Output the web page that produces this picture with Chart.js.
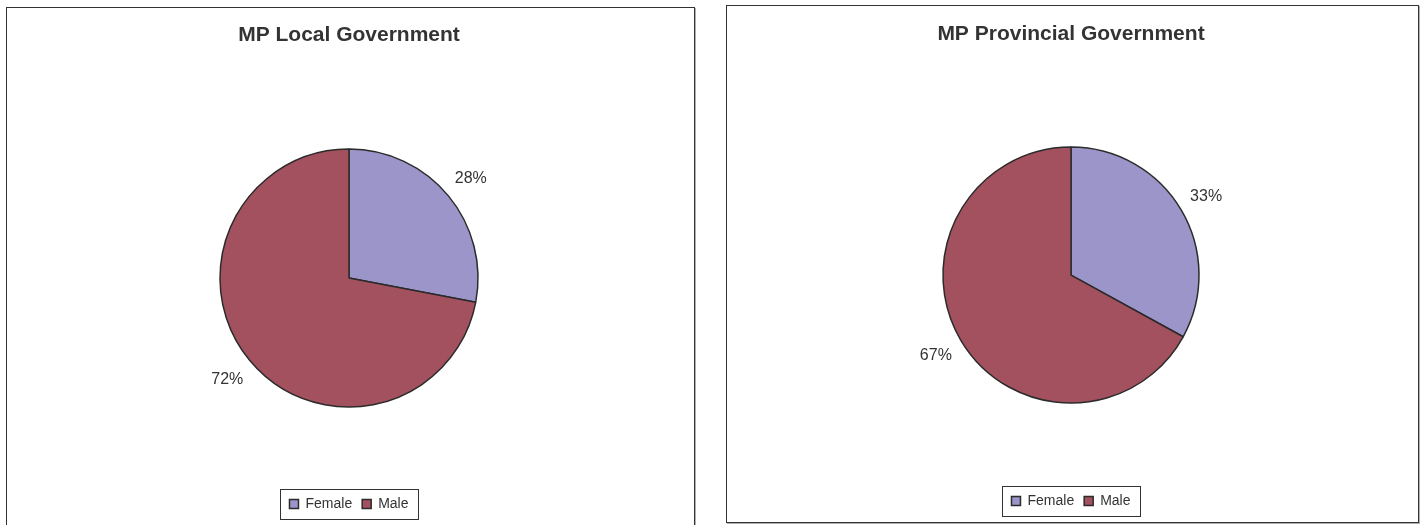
<!DOCTYPE html>
<html>
<head>
<meta charset="utf-8">
<script src="https://cdn.jsdelivr.net/npm/chart.js@4"></script>
<style>
    body { margin: 0; background: #fff; width: 1426px; height: 525px; overflow: hidden; position: relative; }
    .panel { position: absolute; border: 1px solid #333; box-shadow: 1px 1px 0 #b0b0b0; background: #fff; }
    #panelLocal { left: 6px; top: 7px; width: 687px; height: 530px; }
    #panelProv { left: 726px; top: 5px; width: 691px; height: 516px; }
    canvas { display: block; }
</style>
</head>
<body>
<div class="panel" id="panelLocal"><canvas id="graficoLocal" width="687" height="530"></canvas></div>
<div class="panel" id="panelProv"><canvas id="graficoProv" width="691" height="516"></canvas></div>

<script>
const categorias = ["Female", "Male"];
const porcentajeLocal = [28, 72];
const porcentajeProvincial = [33, 67];
const colores = ["#9b95c9", "#a4515f"];

Chart.defaults.font.family = "'Liberation Sans', Arial, sans-serif";
Chart.defaults.color = "#333";

// etiquetas de porcentaje fuera de cada porcion
const etiquetasPlugin = {
    id: "etiquetas",
    afterDatasetsDraw(chart) {
        const ctx = chart.ctx;
        const datos = chart.data.datasets[0].data;
        ctx.save();
        ctx.font = "16px 'Liberation Sans', Arial, sans-serif";
        ctx.fillStyle = "#333";
        ctx.textAlign = "center";
        ctx.textBaseline = "middle";
        chart.getDatasetMeta(0).data.forEach((arc, i) => {
            const p = arc.getProps(["x", "y", "startAngle", "endAngle", "outerRadius"], true);
            const medio = (p.startAngle + p.endAngle) / 2;
            const r = p.outerRadius + 29;
            ctx.fillText(datos[i] + "%", p.x + Math.cos(medio) * r, p.y + Math.sin(medio) * r + 1);
        });
        ctx.restore();
    }
};

// marco alrededor de la leyenda
const marcoLeyenda = {
    id: "marcoLeyenda",
    afterDraw(chart) {
        const cajas = chart.legend.legendHitBoxes;
        if (!cajas || !cajas.length) return;
        const izq = Math.min(...cajas.map(c => c.left));
        const der = Math.max(...cajas.map(c => c.left + c.width));
        const medioY = cajas[0].top + cajas[0].height / 2;
        const ctx = chart.ctx;
        ctx.save();
        ctx.strokeStyle = "#333";
        ctx.lineWidth = 1;
        ctx.strokeRect(Math.round(izq - 9) + 0.5, Math.round(medioY - 15) + 0.5, Math.round(der - izq + 19), 30);
        ctx.restore();
    }
};

function crearPastel(id, titulo, valores, radio, padTitulo, padAbajo) {
    new Chart(document.getElementById(id), {
        type: "pie",
        data: {
            labels: categorias,
            datasets: [{
                data: valores,
                backgroundColor: colores,
                borderColor: "#2b2b2b",
                borderWidth: 1.5,
                radius: radio
            }]
        },
        options: {
            responsive: false,
            animation: false,
            layout: { padding: { left: 0, right: 3, top: 0, bottom: padAbajo } },
            plugins: {
                title: {
                    display: true,
                    text: titulo,
                    color: "#333",
                    font: { size: 21, weight: "bold" },
                    padding: padTitulo
                },
                legend: {
                    position: "bottom",
                    labels: {
                        boxWidth: 9,
                        boxHeight: 9,
                        padding: 10,
                        color: "#333",
                        font: { size: 14 }
                    }
                },
                tooltip: { enabled: false }
            }
        },
        plugins: [etiquetasPlugin, marcoLeyenda]
    });
}

crearPastel("graficoLocal", "MP Local Government", porcentajeLocal, 129, { top: 15, bottom: 21 }, 17);
crearPastel("graficoProv", "MP Provincial Government", porcentajeProvincial, 128, { top: 16, bottom: 19 }, 4);
</script>
</body>
</html>
